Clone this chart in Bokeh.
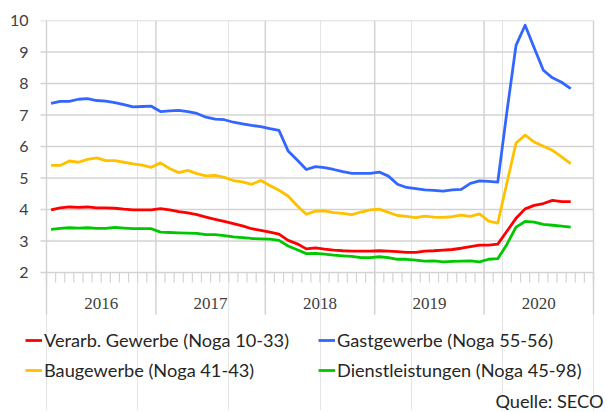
import numpy as np
from bokeh.plotting import figure
from bokeh.models import (Range1d, FixedTicker, Legend, LegendItem, LabelSet,
                          Label, ColumnDataSource)
from bokeh.embed import file_html
from bokeh.resources import INLINE

years = ["2016", "2017", "2018", "2019", "2020"]
y_ticks = [2, 3, 4, 5, 6, 7, 8, 9, 10]

verarb = [3.99, 4.05, 4.08, 4.07, 4.08, 4.05, 4.05, 4.04, 4.01, 3.99, 3.99, 3.99,
          4.03, 3.99, 3.93, 3.89, 3.84, 3.76, 3.69, 3.62, 3.55, 3.48, 3.39, 3.34,
          3.28, 3.22, 3.02, 2.91, 2.75, 2.78, 2.74, 2.71, 2.69, 2.68, 2.68, 2.68,
          2.69, 2.68, 2.66, 2.64, 2.64, 2.68, 2.69, 2.71, 2.73, 2.77, 2.82, 2.87,
          2.87, 2.90, 3.31, 3.72, 4.02, 4.13, 4.19, 4.29, 4.25, 4.25]
gast = [7.37, 7.43, 7.43, 7.50, 7.52, 7.46, 7.44, 7.39, 7.33, 7.26, 7.27, 7.28,
        7.11, 7.13, 7.15, 7.11, 7.05, 6.93, 6.87, 6.85, 6.77, 6.72, 6.67, 6.63,
        6.57, 6.51, 5.86, 5.57, 5.27, 5.36, 5.33, 5.27, 5.20, 5.15, 5.15, 5.15,
        5.19, 5.06, 4.80, 4.70, 4.66, 4.62, 4.61, 4.58, 4.62, 4.64, 4.83, 4.91,
        4.89, 4.87, 7.10, 9.21, 9.85, 9.13, 8.42, 8.18, 8.04, 7.84]
bau = [5.40, 5.40, 5.54, 5.50, 5.59, 5.64, 5.55, 5.55, 5.50, 5.45, 5.41, 5.34,
       5.48, 5.30, 5.17, 5.24, 5.14, 5.07, 5.08, 5.02, 4.92, 4.88, 4.80, 4.92,
       4.76, 4.61, 4.43, 4.12, 3.85, 3.95, 3.96, 3.90, 3.88, 3.84, 3.92, 3.99,
       4.01, 3.91, 3.81, 3.78, 3.74, 3.79, 3.76, 3.75, 3.77, 3.82, 3.78, 3.86,
       3.63, 3.57, 4.84, 6.11, 6.36, 6.14, 6.01, 5.88, 5.67, 5.46]
dienst = [3.37, 3.40, 3.42, 3.41, 3.42, 3.40, 3.40, 3.43, 3.41, 3.39, 3.39, 3.39,
          3.28, 3.27, 3.26, 3.25, 3.24, 3.20, 3.20, 3.17, 3.13, 3.11, 3.08, 3.07,
          3.06, 3.02, 2.84, 2.72, 2.60, 2.61, 2.58, 2.55, 2.53, 2.51, 2.47, 2.47,
          2.50, 2.47, 2.42, 2.42, 2.39, 2.36, 2.37, 2.34, 2.35, 2.36, 2.37, 2.34,
          2.42, 2.44, 2.89, 3.44, 3.62, 3.60, 3.53, 3.50, 3.47, 3.44]

series_names = ["Verarb. Gewerbe (Noga 10-33)", "Gastgewerbe (Noga 55-56)",
                "Baugewerbe (Noga 41-43)", "Dienstleistungen (Noga 45-98)"]
colors = ["#FF0000", "#3366FF", "#FFC000", "#00C800"]
source_note = "Quelle: SECO"

FONT = "Lato"
GRID = "#D3D3D3"
TXT = "#404040"

n_months = 12 * len(years)
CANVAS_W, CANVAS_H = 604, 410
FRAME_L, TOP = 20, 20         # frame edges on the canvas
X0_PX, PLOT_W = 46, 547       # where month 0 sits, width of the 60 months
PX_PER_UNIT = 31.5            # vertical pixels per value unit
Y_MIN, Y_MAX = 2, 10
MX = PLOT_W / n_months

x_lo = -(X0_PX - FRAME_L) / MX
x_hi = n_months + (CANVAS_W - X0_PX - PLOT_W) / MX
y_lo = Y_MAX - (CANVAS_H - TOP) / PX_PER_UNIT

x = np.arange(len(verarb)) + 0.5

p = figure(width=CANVAS_W, height=CANVAS_H, output_backend="svg",
           toolbar_location=None,
           x_range=Range1d(x_lo, x_hi), y_range=Range1d(y_lo, Y_MAX),
           x_axis_location=None,
           min_border_left=FRAME_L, min_border_right=0, min_border_top=TOP,
           min_border_bottom=0)
p.outline_line_color = None

# value axis: labels only (grid lines and ticks drawn below as segments)
p.yaxis.ticker = FixedTicker(ticks=y_ticks)
p.yaxis.major_tick_out = 0
p.yaxis.major_tick_in = 0
p.yaxis.major_tick_line_color = None
p.yaxis.minor_tick_line_color = None
p.yaxis.axis_line_color = None
p.yaxis.major_label_standoff = -(X0_PX - 18 - FRAME_L)
p.yaxis.major_label_text_font = FONT
p.yaxis.major_label_text_font_size = "16px"
p.yaxis.major_label_text_color = TXT
p.ygrid.grid_line_color = None

# horizontal grid lines incl. their 6px tick to the left
yt = np.array(y_ticks, dtype=float)
p.segment(x0=np.full_like(yt, -6 / MX), y0=yt, x1=np.full_like(yt, n_months), y1=yt,
          line_color=GRID, line_width=1.5)

# year separators (incl. left edge), running 42px below the value axis
bounds = np.arange(0, n_months + 1, 12)
p.segment(x0=bounds, y0=Y_MIN - 42 / PX_PER_UNIT, x1=bounds, y1=Y_MAX,
          line_color=GRID, line_width=1.5)

# month ticks below the value axis
mticks = np.arange(0, n_months + 1)
p.segment(x0=mticks, y0=Y_MIN, x1=mticks, y1=Y_MIN - 10 / PX_PER_UNIT,
          line_color=GRID, line_width=1.2)

renderers = []
for vals, c in zip([verarb, gast, bau, dienst], colors):
    r = p.line(x, vals, line_color=c, line_width=2.8, line_join="round")
    renderers.append(r)

# year labels
ysrc = ColumnDataSource(dict(x=[12 * i + 6 for i in range(len(years))],
                             y=[Y_MIN - 31 / PX_PER_UNIT] * len(years), t=years))
p.add_layout(LabelSet(x="x", y="y", text="t", source=ysrc, text_align="center",
                      text_baseline="middle", text_font=FONT,
                      text_font_size="17px", text_color=TXT))

def make_legend(idx, loc):
    return Legend(items=[LegendItem(label=series_names[i], renderers=[renderers[i]])
                         for i in idx],
                  location=loc, orientation="vertical",
                  label_text_font=FONT, label_text_font_size="18.2px",
                  label_text_color="#262626",
                  glyph_width=17, glyph_height=20, label_height=20,
                  label_standoff=2, spacing=8, padding=0, margin=0,
                  border_line_color=None, background_fill_alpha=0)

p.add_layout(make_legend([0, 2], (5, 29)))
p.add_layout(make_legend([1, 3], (298, 29)))

p.add_layout(Label(x=n_months + 10 / MX, y=Y_MIN - 128 / PX_PER_UNIT, text=source_note,
                   text_align="right", text_baseline="middle", text_font=FONT,
                   text_font_size="18.2px", text_color="#262626"))

open("out.html", "w").write(file_html(p, INLINE))
